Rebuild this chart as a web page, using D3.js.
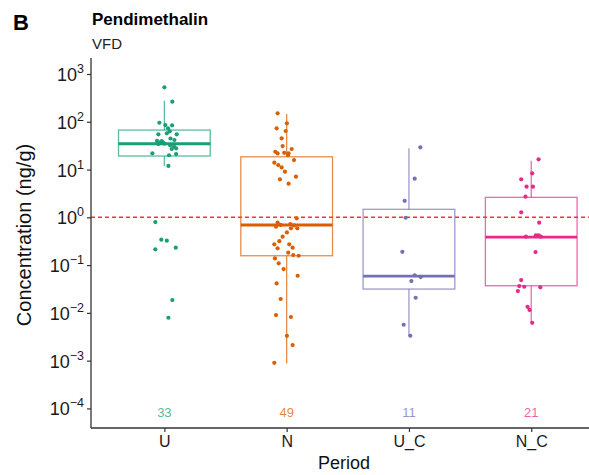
<!DOCTYPE html>
<html>
<head>
<meta charset="utf-8">
<script src="https://cdn.jsdelivr.net/npm/d3@7"></script>
<style>
  html, body { margin: 0; padding: 0; background: #fff; }
  svg { display: block; font-family: "Liberation Sans", Arial, sans-serif; }
</style>
</head>
<body>
<svg id="chart" width="589" height="475"></svg>
<script>
// ---------------- data ----------------
const categories = ["U", "N", "U_C", "N_C"];
const counts = [33, 49, 11, 21];
const colors = ["#1B9E77", "#D95F02", "#7570B3", "#E7298A"];

// box statistics (ng/g)
const q1 = [19.2, 0.157, 0.0315, 0.037];
const medians = [34.7, 0.69, 0.059, 0.386];
const q3 = [67, 18.5, 1.47, 2.62];
const whiskerLow = [11.9, 0.00087, 0.0033, 0.0062];
const whiskerHigh = [276, 146, 27.8, 15.3];

// individual concentrations (ng/g) and horizontal jitter (fraction of category spacing)
const valuesU = [525, 263, 95.5, 85.1, 84.3, 72.9, 63.1, 54.6, 57.3, 54.6, 41.5, 39.5, 37.2, 34.2, 36.3, 32.1, 30.1, 26.9, 27.8, 21.9, 19.9, 21.1, 11.9, 0.796, 0.34, 0.324, 0.214, 0.231, 0.0185, 0.0079, 34.8, 44.7, 39.8];
const jitterU = [0, 0.065, -0.041, 0.008, 0.063, 0.03, 0.044, -0.049, 0.02, 0.101, 0.082, -0.021, -0.033, -0.049, -0.008, 0.047, 0.079, 0.06, 0.096, -0.098, 0.038, 0.096, 0.033, -0.074, -0.025, 0.02, -0.074, 0.093, 0.065, 0.033, 0.0, 0.05, -0.06];

const valuesN = [150, 92.9, 72.9, 64.1, 45.1, 31.0, 23.6, 21.8, 26.9, 21.8, 20.1, 13.9, 12.4, 11.1, 9.02, 7.08, 6.24, 5.05, 0.955, 0.776, 0.635, 0.587, 0.587, 0.484, 0.393, 0.272, 0.272, 0.224, 0.231, 0.182, 0.162, 0.157, 0.138, 0.109, 0.0826, 0.0598, 0.0414, 0.0195, 0.009, 0.0082, 0.0033, 0.00212, 0.0009, 15.8, 22.4, 0.724, 0.692, 0.676, 0.316];
const jitterN = [-0.074, 0.002, -0.082, -0.008, -0.041, -0.033, -0.093, -0.074, 0.041, 0.016, 0.011, -0.101, -0.069, -0.041, -0.014, 0.076, -0.055, 0.016, 0.082, -0.074, -0.087, 0.035, 0.087, 0.002, -0.033, -0.101, 0.021, -0.074, 0.049, 0.013, 0.054, 0.098, -0.096, -0.065, -0.025, 0.09, -0.082, -0.049, -0.087, 0.035, 0.002, 0.049, -0.101, 0.06, -0.02, 0.03, -0.05, 0.06, -0.06];

const valuesUC = [29.2, 6.43, 2.22, 0.98, 0.19, 0.061, 0.056, 0.0463, 0.0207, 0.00564, 0.00332];
const jitterUC = [0.093, 0.047, -0.035, -0.027, -0.054, 0.047, 0.096, 0.02, 0.055, -0.043, 0.011];

const valuesNC = [16.4, 8.34, 6.24, 4.37, 4.37, 2.70, 1.27, 0.771, 0.393, 0.42, 0.42, 0.393, 0.187, 0.0486, 0.0364, 0.0352, 0.0286, 0.0342, 0.0134, 0.0115, 0.0062];
const jitterNC = [0.06, 0.008, -0.082, -0.038, 0.014, -0.047, -0.082, 0.065, -0.043, 0.038, 0.06, 0.079, 0.035, -0.082, -0.098, -0.057, -0.109, 0.074, -0.03, -0.014, 0.008];

const threshold = 1;
const yTicks = [1e-4, 1e-3, 1e-2, 1e-1, 1e0, 1e1, 1e2, 1e3];
const titleText = "Pendimethalin";
const subtitleText = "VFD";
const panelLabel = "B";
const xTitle = "Period";
const yTitle = "Concentration (ng/g)";

// ---------------- chart ----------------
(function () {
  const groups = [
    { v: valuesU, j: jitterU },
    { v: valuesN, j: jitterN },
    { v: valuesUC, j: jitterUC },
    { v: valuesNC, j: jitterNC }
  ];

  const svg = d3.select("#chart");
  const pLeft = 91, pRight = 604.6, pTop = 58, pBottom = 428;

  const x = d3.scalePoint().domain(categories).range([pLeft, pRight]).padding(0.6);
  const step = x.step();
  const y = d3.scaleLog().domain([Math.pow(10, -4.41), Math.pow(10, 3.335)]).range([pBottom, pTop]);

  const boxW = step * 0.75;
  const fade = (c, a) => { const k = d3.color(c); k.opacity = a; return k + ""; };

  // threshold line
  svg.append("line")
    .attr("x1", pLeft).attr("x2", 589)
    .attr("y1", y(threshold)).attr("y2", y(threshold))
    .attr("stroke", "#FF3333").attr("stroke-width", 1.5)
    .attr("stroke-dasharray", "4,3");

  // boxes
  categories.forEach((c, i) => {
    const g = svg.append("g");
    const cx = x(c);
    const col = colors[i];
    const light = fade(col, 0.7);
    g.append("line").attr("x1", cx).attr("x2", cx)
      .attr("y1", y(q3[i])).attr("y2", y(whiskerHigh[i]))
      .attr("stroke", light).attr("stroke-width", 1.3);
    g.append("line").attr("x1", cx).attr("x2", cx)
      .attr("y1", y(q1[i])).attr("y2", y(whiskerLow[i]))
      .attr("stroke", light).attr("stroke-width", 1.3);
    g.append("rect")
      .attr("x", cx - boxW / 2).attr("width", boxW)
      .attr("y", y(q3[i])).attr("height", y(q1[i]) - y(q3[i]))
      .attr("fill", "none").attr("stroke", light).attr("stroke-width", 1.3);
    g.append("line")
      .attr("x1", cx - boxW / 2).attr("x2", cx + boxW / 2)
      .attr("y1", y(medians[i])).attr("y2", y(medians[i]))
      .attr("stroke", col).attr("stroke-width", 2.8);
  });

  // points
  groups.forEach((grp, i) => {
    svg.append("g").selectAll("circle")
      .data(grp.v.map((v, k) => ({ v, j: grp.j[k] })))
      .join("circle")
      .attr("cx", d => x(categories[i]) + d.j * step)
      .attr("cy", d => y(d.v))
      .attr("r", 2.1)
      .attr("fill", colors[i]);
  });

  // counts
  svg.append("g").selectAll("text")
    .data(counts)
    .join("text")
    .attr("x", (d, i) => x(categories[i]))
    .attr("y", y(1e-4) + 8.5)
    .attr("text-anchor", "middle")
    .attr("font-size", 13)
    .attr("fill", (d, i) => fade(colors[i], 0.75))
    .text(d => d);

  // axes
  const yAxis = svg.append("g")
    .attr("transform", `translate(${pLeft},0)`)
    .call(d3.axisLeft(y).tickValues(yTicks).tickSize(4).tickPadding(3).tickFormat(""));
  yAxis.select(".domain").attr("d", `M0,${pTop}V${pBottom}`);
  yAxis.selectAll(".tick text").each(function (d) {
    const t = d3.select(this);
    const e = Math.round(Math.log10(d));
    t.text(null).attr("font-size", 18).attr("fill", "#1a1a1a").attr("dy", "0.36em");
    t.append("tspan").text("10");
    t.append("tspan").text(e < 0 ? "\u2212" + (-e) : String(e))
      .attr("font-size", 12.5).attr("dy", -8);
  });

  const xAxis = svg.append("g")
    .attr("transform", `translate(0,${pBottom})`)
    .call(d3.axisBottom(x).tickSize(4).tickPadding(4));
  xAxis.select(".domain").attr("d", `M${pLeft},0H589`);
  xAxis.selectAll(".tick text").attr("font-size", 16).attr("fill", "#1a1a1a");

  svg.selectAll(".domain").attr("stroke", "#333").attr("stroke-width", 1.3);
  svg.selectAll(".tick line").attr("stroke", "#333").attr("stroke-width", 1.2);

  // titles
  svg.append("text").attr("x", 13).attr("y", 30)
    .attr("font-size", 22).attr("font-weight", "bold").attr("fill", "#000").text(panelLabel);
  svg.append("text").attr("x", 92).attr("y", 25)
    .attr("font-size", 17).attr("font-weight", "bold").attr("fill", "#000").text(titleText);
  svg.append("text").attr("x", 92).attr("y", 49)
    .attr("font-size", 15).attr("fill", "#222").text(subtitleText);

  svg.append("text")
    .attr("transform", `translate(31,235) rotate(-90)`)
    .attr("text-anchor", "middle")
    .attr("font-size", 20).attr("fill", "#111").text(yTitle);

  svg.append("text").attr("x", 344).attr("y", 469)
    .attr("text-anchor", "middle")
    .attr("font-size", 18).attr("fill", "#111").text(xTitle);
})();
</script>
</body>
</html>
